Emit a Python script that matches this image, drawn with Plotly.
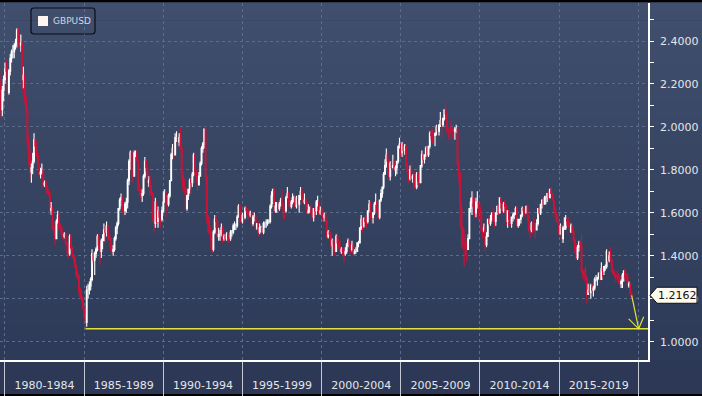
import plotly.graph_objects as go
import pandas as pd

# ---------------- data (monthly GBPUSD) ----------------
series_name = "GBPUSD"
start_month = "1979-09-01"
first_open = 2.23

close = [
 2.20, 2.08, 2.17, 2.22,
 2.27, 2.26, 2.16, 2.26, 2.32, 2.35, 2.35, 2.38, 2.39, 2.45, 2.39, 2.38,
 2.39, 2.22, 2.24, 2.13, 2.08, 1.93, 1.86, 1.79, 1.81, 1.84, 1.94, 1.91,
 1.87, 1.82, 1.78, 1.79, 1.80, 1.73, 1.74, 1.72, 1.69, 1.69, 1.61, 1.62,
 1.53, 1.52, 1.48, 1.56, 1.59, 1.53, 1.53, 1.50, 1.49, 1.50, 1.46, 1.45,
 1.41, 1.49, 1.44, 1.40, 1.39, 1.35, 1.31, 1.31, 1.24, 1.21, 1.20, 1.16,
 1.12, 1.09, 1.24, 1.24, 1.26, 1.29, 1.41, 1.38, 1.41, 1.43, 1.49, 1.45,
 1.42, 1.47, 1.47, 1.52, 1.51, 1.54, 1.49, 1.48, 1.44, 1.42, 1.43, 1.48,
 1.53, 1.55, 1.62, 1.66, 1.67, 1.61, 1.61, 1.64, 1.65, 1.75, 1.84, 1.88,
 1.78, 1.77, 1.88, 1.88, 1.85, 1.71, 1.71, 1.68, 1.69, 1.77, 1.84, 1.81,
 1.74, 1.75, 1.69, 1.69, 1.56, 1.55, 1.65, 1.56, 1.61, 1.58, 1.57, 1.61,
 1.65, 1.69, 1.64, 1.64, 1.68, 1.75, 1.87, 1.90, 1.87, 1.95, 1.95, 1.93,
 1.95, 1.90, 1.77, 1.72, 1.71, 1.62, 1.68, 1.71, 1.75, 1.74, 1.78, 1.87,
 1.79, 1.76, 1.73, 1.77, 1.83, 1.90, 1.92, 1.99, 1.77, 1.58, 1.52, 1.51,
 1.48, 1.43, 1.51, 1.57, 1.56, 1.49, 1.50, 1.50, 1.53, 1.48, 1.49, 1.48,
 1.50, 1.48, 1.48, 1.51, 1.51, 1.54, 1.54, 1.54, 1.58, 1.63, 1.56, 1.56,
 1.59, 1.58, 1.62, 1.61, 1.59, 1.59, 1.60, 1.55, 1.58, 1.58, 1.53, 1.55,
 1.51, 1.53, 1.53, 1.51, 1.55, 1.55, 1.55, 1.56, 1.56, 1.63, 1.68, 1.71,
 1.61, 1.63, 1.64, 1.62, 1.64, 1.66, 1.64, 1.61, 1.61, 1.67, 1.69, 1.65,
 1.63, 1.65, 1.67, 1.67, 1.63, 1.67, 1.64, 1.68, 1.70, 1.68, 1.65, 1.66,
 1.65, 1.60, 1.61, 1.61, 1.60, 1.58, 1.62, 1.61, 1.65, 1.65, 1.60, 1.61,
 1.59, 1.58, 1.59, 1.56, 1.49, 1.51, 1.50, 1.45, 1.47, 1.45, 1.42, 1.49,
 1.46, 1.44, 1.42, 1.43, 1.42, 1.41, 1.42, 1.45, 1.47, 1.45, 1.43, 1.45,
 1.41, 1.42, 1.42, 1.46, 1.46, 1.53, 1.57, 1.54, 1.57, 1.56, 1.56, 1.61,
 1.64, 1.58, 1.58, 1.60, 1.64, 1.65, 1.61, 1.58, 1.66, 1.69, 1.72, 1.78,
 1.82, 1.87, 1.84, 1.77, 1.83, 1.81, 1.82, 1.80, 1.81, 1.84, 1.91, 1.92,
 1.88, 1.92, 1.89, 1.91, 1.82, 1.79, 1.76, 1.80, 1.76, 1.77, 1.72, 1.72,
 1.78, 1.75, 1.74, 1.82, 1.87, 1.85, 1.87, 1.90, 1.87, 1.91, 1.97, 1.96,
 1.96, 1.96, 1.97, 2.00, 1.98, 2.01, 2.03, 2.01, 2.04, 2.08, 2.06, 1.99,
 1.99, 1.99, 1.98, 1.98, 1.98, 1.99, 1.99, 1.82, 1.78, 1.62, 1.53, 1.46,
 1.45, 1.43, 1.43, 1.48, 1.62, 1.65, 1.67, 1.63, 1.60, 1.65, 1.65, 1.62,
 1.61, 1.52, 1.52, 1.53, 1.45, 1.49, 1.57, 1.55, 1.57, 1.60, 1.56, 1.56,
 1.60, 1.63, 1.60, 1.67, 1.65, 1.61, 1.64, 1.63, 1.56, 1.61, 1.57, 1.55,
 1.58, 1.59, 1.60, 1.62, 1.54, 1.57, 1.57, 1.59, 1.62, 1.61, 1.60, 1.63,
 1.59, 1.52, 1.52, 1.55, 1.52, 1.52, 1.52, 1.55, 1.62, 1.60, 1.64, 1.66,
 1.64, 1.67, 1.67, 1.69, 1.67, 1.71, 1.69, 1.66, 1.62, 1.60, 1.56, 1.56,
 1.50, 1.54, 1.48, 1.53, 1.53, 1.57, 1.56, 1.54, 1.51, 1.54, 1.51, 1.47,
 1.42, 1.39, 1.44, 1.46, 1.45, 1.33, 1.32, 1.31, 1.30, 1.22, 1.24, 1.23,
 1.26, 1.24, 1.25, 1.29, 1.29, 1.30, 1.32, 1.29, 1.34, 1.33, 1.35, 1.35,
 1.42, 1.38, 1.40, 1.38, 1.33, 1.32, 1.31, 1.30, 1.30, 1.28, 1.27, 1.28,
 1.31, 1.33, 1.30, 1.30, 1.26, 1.27, 1.22, 1.2162,
]

high = [
 2.27, 2.21, 2.19, 2.24,
 2.30, 2.31, 2.28, 2.27, 2.34, 2.36, 2.38, 2.39, 2.41, 2.46, 2.46, 2.42,
 2.43, 2.40, 2.28, 2.25, 2.15, 2.09, 1.96, 1.90, 1.83, 1.88, 1.97, 1.95,
 1.93, 1.88, 1.83, 1.81, 1.83, 1.80, 1.75, 1.75, 1.73, 1.71, 1.70, 1.65,
 1.63, 1.56, 1.54, 1.57, 1.61, 1.60, 1.55, 1.54, 1.51, 1.51, 1.51, 1.47,
 1.46, 1.50, 1.50, 1.44, 1.41, 1.40, 1.36, 1.33, 1.31, 1.25, 1.24, 1.21,
 1.16, 1.13, 1.26, 1.27, 1.28, 1.30, 1.43, 1.42, 1.42, 1.44, 1.50, 1.50,
 1.46, 1.48, 1.50, 1.55, 1.54, 1.56, 1.54, 1.51, 1.49, 1.45, 1.45, 1.49,
 1.54, 1.56, 1.62, 1.67, 1.69, 1.68, 1.64, 1.65, 1.67, 1.76, 1.85, 1.89,
 1.89, 1.80, 1.89, 1.89, 1.89, 1.85, 1.74, 1.72, 1.71, 1.78, 1.86, 1.85,
 1.81, 1.77, 1.77, 1.73, 1.70, 1.58, 1.67, 1.65, 1.63, 1.62, 1.58, 1.63,
 1.70, 1.71, 1.70, 1.66, 1.69, 1.75, 1.88, 1.92, 1.93, 1.97, 1.98, 1.95,
 1.97, 2.00, 1.91, 1.79, 1.76, 1.72, 1.68, 1.71, 1.76, 1.76, 1.79, 1.88,
 1.87, 1.80, 1.77, 1.79, 1.84, 1.91, 1.93, 1.99, 2.01, 1.77, 1.59, 1.58,
 1.54, 1.49, 1.52, 1.59, 1.59, 1.57, 1.53, 1.52, 1.55, 1.54, 1.50, 1.51,
 1.51, 1.50, 1.50, 1.52, 1.52, 1.55, 1.56, 1.55, 1.59, 1.64, 1.64, 1.58,
 1.60, 1.59, 1.63, 1.63, 1.62, 1.61, 1.61, 1.60, 1.59, 1.60, 1.59, 1.55,
 1.56, 1.55, 1.54, 1.53, 1.56, 1.56, 1.57, 1.57, 1.57, 1.64, 1.70, 1.71,
 1.71, 1.65, 1.65, 1.65, 1.65, 1.67, 1.71, 1.64, 1.63, 1.68, 1.72, 1.70,
 1.66, 1.66, 1.69, 1.68, 1.68, 1.68, 1.67, 1.68, 1.72, 1.72, 1.69, 1.69,
 1.67, 1.65, 1.64, 1.63, 1.64, 1.62, 1.62, 1.62, 1.66, 1.68, 1.65, 1.63,
 1.66, 1.62, 1.60, 1.60, 1.57, 1.52, 1.53, 1.51, 1.48, 1.48, 1.46, 1.50,
 1.51, 1.48, 1.47, 1.44, 1.44, 1.43, 1.44, 1.46, 1.48, 1.48, 1.46, 1.47,
 1.46, 1.43, 1.44, 1.46, 1.47, 1.53, 1.59, 1.57, 1.58, 1.58, 1.59, 1.61,
 1.66, 1.65, 1.61, 1.60, 1.65, 1.69, 1.66, 1.62, 1.66, 1.71, 1.72, 1.79,
 1.85, 1.90, 1.88, 1.85, 1.84, 1.85, 1.87, 1.85, 1.82, 1.84, 1.91, 1.95,
 1.92, 1.93, 1.94, 1.92, 1.91, 1.83, 1.80, 1.82, 1.84, 1.78, 1.79, 1.76,
 1.79, 1.79, 1.76, 1.82, 1.89, 1.87, 1.87, 1.91, 1.91, 1.91, 1.98, 1.99,
 1.99, 1.98, 1.97, 2.01, 2.00, 2.01, 2.07, 2.04, 2.04, 2.08, 2.12, 2.06,
 2.00, 1.99, 2.03, 2.00, 1.99, 2.00, 2.01, 1.99, 1.85, 1.79, 1.65, 1.54,
 1.52, 1.50, 1.47, 1.50, 1.62, 1.67, 1.70, 1.70, 1.67, 1.67, 1.70, 1.65,
 1.64, 1.61, 1.53, 1.55, 1.54, 1.51, 1.57, 1.59, 1.59, 1.60, 1.63, 1.60,
 1.60, 1.63, 1.64, 1.67, 1.67, 1.65, 1.65, 1.66, 1.64, 1.61, 1.61, 1.58,
 1.58, 1.60, 1.60, 1.63, 1.63, 1.57, 1.57, 1.59, 1.63, 1.62, 1.61, 1.63,
 1.63, 1.59, 1.53, 1.56, 1.56, 1.58, 1.54, 1.57, 1.62, 1.63, 1.64, 1.66,
 1.67, 1.68, 1.68, 1.69, 1.70, 1.71, 1.72, 1.69, 1.66, 1.63, 1.60, 1.59,
 1.56, 1.55, 1.54, 1.54, 1.58, 1.59, 1.57, 1.58, 1.56, 1.55, 1.54, 1.52,
 1.48, 1.46, 1.45, 1.47, 1.47, 1.50, 1.34, 1.34, 1.35, 1.30, 1.27, 1.28,
 1.27, 1.27, 1.26, 1.30, 1.31, 1.30, 1.32, 1.32, 1.37, 1.34, 1.35, 1.36,
 1.43, 1.42, 1.42, 1.44, 1.38, 1.34, 1.33, 1.31, 1.33, 1.32, 1.31, 1.29,
 1.32, 1.33, 1.34, 1.32, 1.32, 1.28, 1.27, 1.23,
]

low = [
 2.15, 2.04, 2.05, 2.12,
 2.20, 2.23, 2.10, 2.15, 2.24, 2.30, 2.32, 2.32, 2.36, 2.37, 2.37, 2.33,
 2.35, 2.16, 2.18, 2.11, 2.05, 1.91, 1.82, 1.76, 1.74, 1.78, 1.83, 1.88,
 1.86, 1.81, 1.77, 1.76, 1.78, 1.72, 1.72, 1.71, 1.69, 1.68, 1.60, 1.59,
 1.52, 1.50, 1.45, 1.48, 1.55, 1.52, 1.51, 1.49, 1.47, 1.48, 1.45, 1.41,
 1.39, 1.40, 1.43, 1.39, 1.37, 1.35, 1.30, 1.29, 1.22, 1.20, 1.18, 1.15,
 1.10, 1.06, 1.07, 1.20, 1.22, 1.24, 1.28, 1.36, 1.31, 1.39, 1.42, 1.43,
 1.36, 1.39, 1.43, 1.47, 1.46, 1.49, 1.47, 1.47, 1.42, 1.40, 1.40, 1.42,
 1.47, 1.50, 1.54, 1.61, 1.63, 1.60, 1.58, 1.59, 1.60, 1.62, 1.73, 1.80,
 1.74, 1.74, 1.77, 1.86, 1.84, 1.70, 1.68, 1.66, 1.65, 1.68, 1.76, 1.79,
 1.72, 1.72, 1.68, 1.68, 1.56, 1.51, 1.53, 1.55, 1.53, 1.55, 1.53, 1.56,
 1.60, 1.65, 1.58, 1.61, 1.63, 1.67, 1.75, 1.85, 1.85, 1.87, 1.93, 1.91,
 1.91, 1.89, 1.75, 1.70, 1.69, 1.61, 1.61, 1.66, 1.69, 1.69, 1.72, 1.77,
 1.77, 1.74, 1.70, 1.73, 1.77, 1.82, 1.88, 1.90, 1.75, 1.55, 1.50, 1.50,
 1.43, 1.41, 1.42, 1.50, 1.53, 1.48, 1.47, 1.47, 1.49, 1.46, 1.47, 1.47,
 1.47, 1.46, 1.46, 1.47, 1.49, 1.50, 1.52, 1.52, 1.53, 1.58, 1.56, 1.55,
 1.55, 1.55, 1.57, 1.60, 1.57, 1.57, 1.58, 1.53, 1.54, 1.56, 1.52, 1.52,
 1.49, 1.50, 1.51, 1.50, 1.50, 1.53, 1.53, 1.54, 1.55, 1.55, 1.62, 1.64,
 1.60, 1.60, 1.60, 1.61, 1.61, 1.63, 1.63, 1.57, 1.57, 1.60, 1.67, 1.63,
 1.62, 1.62, 1.64, 1.65, 1.62, 1.62, 1.62, 1.60, 1.66, 1.66, 1.64, 1.64,
 1.62, 1.60, 1.60, 1.60, 1.59, 1.57, 1.56, 1.58, 1.59, 1.63, 1.59, 1.59,
 1.59, 1.56, 1.56, 1.56, 1.48, 1.48, 1.49, 1.44, 1.40, 1.42, 1.40, 1.42,
 1.44, 1.43, 1.41, 1.41, 1.40, 1.37, 1.40, 1.41, 1.44, 1.43, 1.41, 1.42,
 1.40, 1.41, 1.41, 1.42, 1.44, 1.46, 1.52, 1.51, 1.53, 1.54, 1.53, 1.55,
 1.60, 1.57, 1.55, 1.55, 1.59, 1.64, 1.60, 1.57, 1.57, 1.65, 1.67, 1.71,
 1.78, 1.81, 1.78, 1.76, 1.75, 1.80, 1.81, 1.79, 1.77, 1.78, 1.83, 1.90,
 1.86, 1.86, 1.86, 1.87, 1.81, 1.79, 1.74, 1.75, 1.75, 1.74, 1.71, 1.71,
 1.71, 1.73, 1.72, 1.74, 1.81, 1.82, 1.83, 1.86, 1.86, 1.86, 1.90, 1.94,
 1.92, 1.93, 1.91, 1.96, 1.96, 1.96, 2.00, 1.94, 2.00, 2.03, 2.04, 1.97,
 1.94, 1.94, 1.97, 1.95, 1.94, 1.94, 1.97, 1.82, 1.74, 1.53, 1.44, 1.43,
 1.35, 1.40, 1.37, 1.43, 1.48, 1.60, 1.59, 1.62, 1.58, 1.58, 1.62, 1.57,
 1.57, 1.51, 1.48, 1.51, 1.42, 1.44, 1.49, 1.54, 1.54, 1.56, 1.56, 1.53,
 1.54, 1.59, 1.59, 1.60, 1.62, 1.60, 1.60, 1.60, 1.54, 1.53, 1.54, 1.54,
 1.53, 1.56, 1.57, 1.59, 1.54, 1.53, 1.54, 1.55, 1.58, 1.59, 1.58, 1.60,
 1.56, 1.51, 1.48, 1.51, 1.50, 1.51, 1.48, 1.52, 1.54, 1.59, 1.59, 1.62,
 1.63, 1.64, 1.64, 1.65, 1.66, 1.67, 1.69, 1.66, 1.61, 1.58, 1.56, 1.55,
 1.50, 1.50, 1.46, 1.46, 1.52, 1.52, 1.54, 1.53, 1.51, 1.51, 1.50, 1.47,
 1.41, 1.38, 1.38, 1.42, 1.43, 1.32, 1.29, 1.28, 1.29, 1.18, 1.22, 1.22,
 1.20, 1.23, 1.21, 1.24, 1.28, 1.26, 1.29, 1.28, 1.29, 1.30, 1.31, 1.33,
 1.34, 1.37, 1.37, 1.37, 1.32, 1.31, 1.30, 1.28, 1.29, 1.27, 1.26, 1.25,
 1.25, 1.28, 1.29, 1.28, 1.26, 1.25, 1.21, 1.20,
]

period_labels = ["1980-1984", "1985-1989", "1990-1994", "1995-1999",
                 "2000-2004", "2005-2009", "2010-2014", "2015-2019"]
period_bounds = ["1980-01-01", "1985-01-01", "1990-01-01", "1995-01-01",
                 "2000-01-01", "2005-01-01", "2010-01-01", "2015-01-01",
                 "2020-01-01"]
y_ticks = [1.0, 1.2, 1.4, 1.6, 1.8, 2.0, 2.2, 2.4]
last_label = "1.2162"
arrow_target_date = "2020-01-10"

# ---------------- derived ----------------
dates = pd.date_range(start_month, periods=len(close), freq="MS")
opens = [first_open] + close[:-1]
b = pd.to_datetime(period_bounds)
mids = [b[i] + (b[i + 1] - b[i]) / 2 for i in range(len(b) - 1)]
low_idx = min(range(len(low)), key=lambda i: low[i])
support = low[low_idx]
support_date = dates[low_idx]

W, H = 702, 396
ML, MR, MT, MB = 0, 54, 3, 36
plot_h = H - MT - MB
x_range = ["1979-09-08", "2020-08-12"]
y_range = [0.9148, 2.577]

GRID = "#5a6d8c"
DASH = "3px,3px"
YELLOW = "#e2e23a"
RED = "#cc1238"
TXT = "#e4e6ea"

fig = go.Figure()

fig.add_trace(go.Candlestick(
    x=dates, open=opens, high=high, low=low, close=close,
    increasing=dict(line=dict(color="#ffffff", width=1.1), fillcolor="rgba(0,0,0,0)"),
    decreasing=dict(line=dict(color=RED, width=1.1), fillcolor=RED),
    whiskerwidth=0, showlegend=False, hoverinfo="skip", name=series_name,
))

# triangle markers at major y ticks (right axis)
fig.add_trace(go.Scatter(
    x=[1.006] * len(y_ticks), y=y_ticks, xaxis="x2", mode="markers",
    marker=dict(symbol="triangle-right", size=6, color="#ffffff"),
    cliponaxis=False, showlegend=False, hoverinfo="skip",
))

shapes = []
# background gradient (plot area + right axis area)
n_b = 40
c_top = (64, 79, 109)
c_bot = (45, 58, 88)
for i in range(n_b):
    t = i / (n_b - 1)
    c = tuple(round(c_top[k] + (c_bot[k] - c_top[k]) * t) for k in range(3))
    y1 = 1 - i / n_b
    y0 = 1 - (i + 1) / n_b
    shapes.append(dict(type="rect", xref="paper", yref="paper", x0=0, x1=W / (W - ML - MR),
                       y0=y0, y1=y1 + 0.002, fillcolor="rgb(%d,%d,%d)" % c,
                       line=dict(width=0), layer="below"))
# x-axis band
shapes.append(dict(type="rect", xref="paper", yref="paper", x0=0, x1=W / (W - ML - MR),
                   y0=-(MB - 2) / plot_h, y1=0, fillcolor="#2c3856",
                   line=dict(width=0), layer="below"))

# support line
shapes.append(dict(type="line", xref="x", yref="y", x0=support_date, x1=x_range[1],
                   y0=support, y1=support, line=dict(color=YELLOW, width=1.6)))
# arrow
shapes.append(dict(type="line", xref="x", yref="y", x0=dates[-1], y0=close[-1],
                   x1=arrow_target_date, y1=support, line=dict(color=YELLOW, width=1.2)))
shapes.append(dict(type="path", xref="x", yref="y", xsizemode="pixel", ysizemode="pixel",
                   xanchor=arrow_target_date, yanchor=support,
                   path="M -10,10 L 0,0 L 5,12", line=dict(color=YELLOW, width=1.2)))

# last price label box
shapes.append(dict(type="path", xref="paper", yref="y", xsizemode="pixel", ysizemode="pixel",
                   xanchor=1, yanchor=close[-1],
                   path="M 2,0 L 9,8 L 49,8 L 49,-8 L 9,-8 Z",
                   fillcolor="#fff9ee", line=dict(color="#111111", width=1)))

# legend box
shapes.append(dict(type="path", xref="paper", yref="paper", xsizemode="pixel", ysizemode="pixel",
                   xanchor=0, yanchor=1,
                   path="M 34,-5 L 92,-5 Q 95,-5 95,-8 L 95,-28 Q 95,-31 92,-31 L 34,-31 "
                        "Q 31,-31 31,-28 L 31,-8 Q 31,-5 34,-5 Z",
                   line=dict(color="#0b0e16", width=1.2)))
shapes.append(dict(type="rect", xref="paper", yref="paper", xsizemode="pixel", ysizemode="pixel",
                   xanchor=0, yanchor=1, x0=38, x1=48, y0=-13, y1=-23,
                   fillcolor="#fff6f2", line=dict(width=0)))

annotations = [
    dict(xref="paper", yref="paper", x=0, y=1, xanchor="left", yanchor="middle",
         xshift=51, yshift=-18, text=series_name, showarrow=False,
         font=dict(family="DejaVu Sans", size=9, color="#d3d7de")),
    dict(xref="paper", yref="y", x=1, y=close[-1], xanchor="center", yanchor="middle",
         xshift=29, text=last_label, showarrow=False,
         font=dict(family="DejaVu Sans", size=11, color="#111111")),
]

fig.update_layout(
    width=W, height=H,
    margin=dict(l=ML, r=MR, t=MT, b=MB),
    paper_bgcolor="#000000", plot_bgcolor="rgba(0,0,0,0)",
    shapes=shapes, annotations=annotations,
    showlegend=False, boxgap=0,
    xaxis=dict(
        type="date", range=x_range, rangeslider=dict(visible=False),
        tickmode="array", tickvals=mids, ticktext=period_labels,
        ticks="", showgrid=False, zeroline=False,
        showline=True, linecolor="#ffffff", linewidth=1.5,
        tickfont=dict(family="DejaVu Sans", size=11, color=TXT),
        ticklabelstandoff=14,
        minor=dict(dtick="M60", tick0="1980-01-01", ticks="outside", ticklen=34,
                   tickcolor="#c3c8d2", tickwidth=1,
                   showgrid=True, gridcolor=GRID, griddash=DASH, gridwidth=1),
        fixedrange=True,
    ),
    xaxis2=dict(overlaying="x", range=[0, 1], visible=False, fixedrange=True),
    yaxis=dict(
        side="right", range=y_range, tickmode="array", tickvals=y_ticks,
        ticktext=["%.4f" % v for v in y_ticks],
        ticks="outside", ticklen=4, tickcolor="#ffffff", tickwidth=1,
        showgrid=True, gridcolor=GRID, griddash=DASH, gridwidth=1,
        zeroline=False, showline=True, linecolor="#ffffff", linewidth=1.5,
        tickfont=dict(family="DejaVu Sans", size=11, color=TXT),
        ticklabelstandoff=4,
        minor=dict(dtick=0.1, tick0=0.9, ticks="outside", ticklen=4,
                   tickcolor="#ffffff", showgrid=False),
        fixedrange=True,
    ),
)

fig.write_html("out.html", config={"displayModeBar": False},
               post_script="document.body.style.margin='0';document.body.style.overflow='hidden';")
